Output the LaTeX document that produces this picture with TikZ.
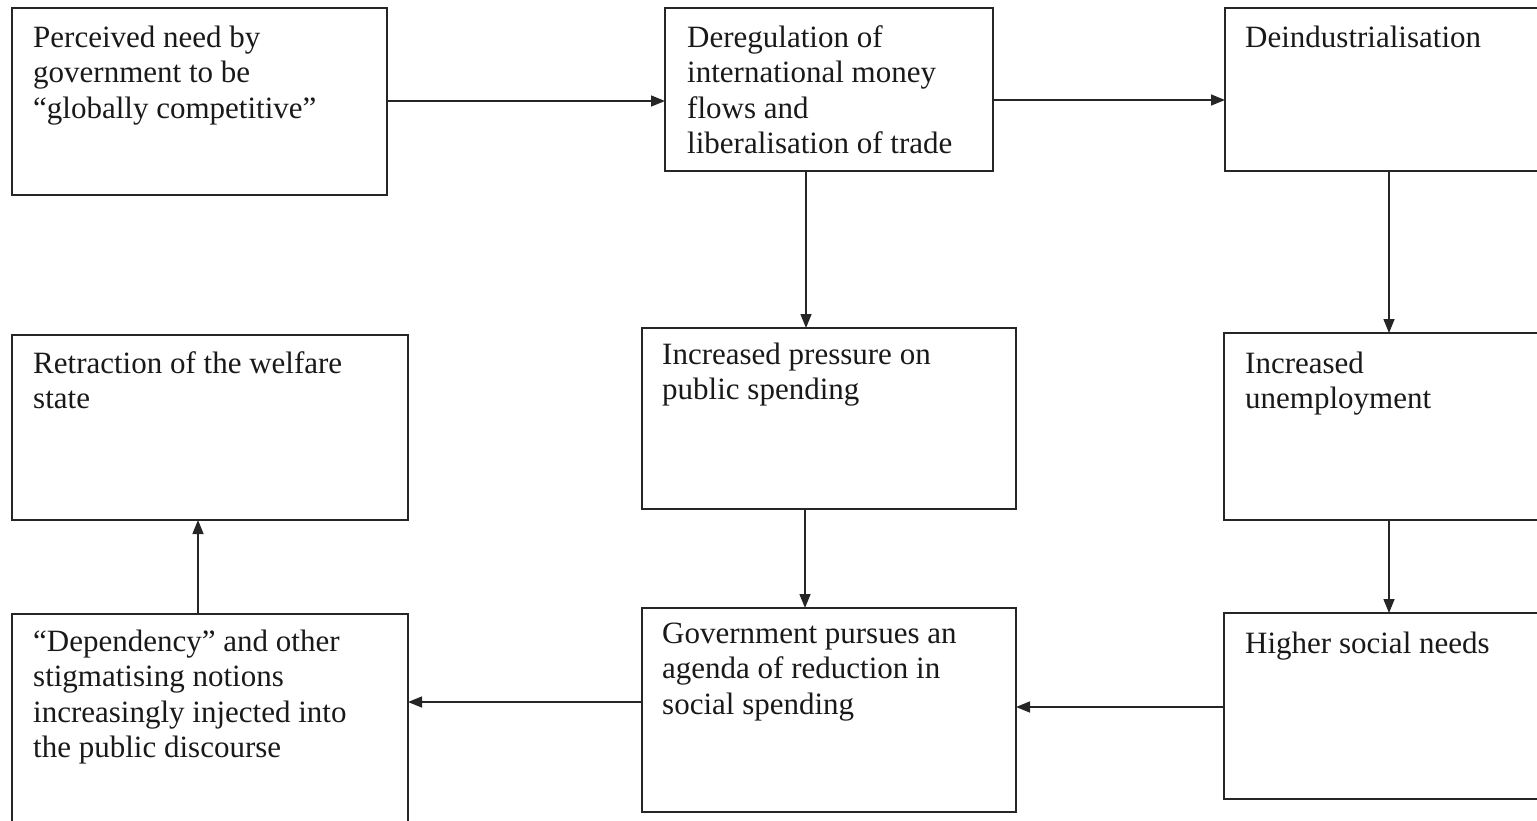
\documentclass[tikz,border=0pt]{standalone}
\usepackage{fontspec}
\setmainfont{Liberation Serif}
\usetikzlibrary{arrows.meta}
\begin{document}
\begin{tikzpicture}[x=1pt,y=-1pt,
  boxst/.style={draw=black!85,line width=1.7pt,rectangle,inner sep=0pt,outer sep=0pt},
  txt/.style={anchor=base west,inner sep=0pt,text width=420pt,align=left,
    font=\fontsize{31}{35.5}\selectfont,text=black!90,
    execute at begin node={\spaceskip=0pt\xspaceskip=0pt\relax}},
  arr/.style={draw=black!85,line width=1.5pt,-{Triangle[length=14pt,width=11pt]}}]
\useasboundingbox (0,0) rectangle (1537,820);
\clip (0,0) rectangle (1537,820);
% boxes
\node[boxst,minimum width=375pt,minimum height=187pt,anchor=north west] (b1) at (12,8) {};
\node[boxst,minimum width=328pt,minimum height=163pt,anchor=north west] (b2) at (665,8) {};
\node[boxst,minimum width=340pt,minimum height=163pt,anchor=north west] (b3) at (1225,8) {};
\node[boxst,minimum width=396pt,minimum height=185pt,anchor=north west] (b4) at (12,335) {};
\node[boxst,minimum width=374pt,minimum height=181pt,anchor=north west] (b5) at (642,328) {};
\node[boxst,minimum width=340pt,minimum height=187pt,anchor=north west] (b6) at (1224,333) {};
\node[boxst,minimum width=396pt,minimum height=230pt,anchor=north west] (b7) at (12,614) {};
\node[boxst,minimum width=374pt,minimum height=204pt,anchor=north west] (b8) at (642,608) {};
\node[boxst,minimum width=340pt,minimum height=186pt,anchor=north west] (b9) at (1224,613) {};
% texts
\node[txt] (t1) at (33,47) {Perceived need by\\government to be\\“globally competitive”};
\node[txt] (t2) at (687,47) {Deregulation of\\international money\\flows and\\liberalisation of trade};
\node[txt] (t3) at (1245,47) {Deindustrialisation};
\node[txt] (t4) at (33,373) {Retraction of the welfare\\state};
\node[txt] (t5) at (662,364) {Increased pressure on\\public spending};
\node[txt] (t6) at (1245,373) {Increased\\unemployment};
\node[txt] (t7) at (33,651) {“Dependency” and other\\stigmatising notions\\increasingly injected into\\the public discourse};
\node[txt] (t8) at (662,643) {Government pursues an\\agenda of reduction in\\social spending};
\node[txt] (t9) at (1245,653) {Higher social needs};
% connectors
\draw[arr] (b1.east |- 0,101) -- (b2.west |- 0,101);
\draw[arr] (b2.east |- 0,100) -- (b3.west |- 0,100);
\draw[arr] (b2.south -| 806,0) -- (b5.north -| 806,0);
\draw[arr] (b3.south -| 1389,0) -- (b6.north -| 1389,0);
\draw[arr] (b5.south -| 805,0) -- (b8.north -| 805,0);
\draw[arr] (b6.south -| 1389,0) -- (b9.north -| 1389,0);
\draw[arr] (b9.west |- 0,707) -- (b8.east |- 0,707);
\draw[arr] (b8.west |- 0,702) -- (b7.east |- 0,702);
\draw[arr] (b7.north -| 198,0) -- (b4.south -| 198,0);
\end{tikzpicture}
\end{document}
